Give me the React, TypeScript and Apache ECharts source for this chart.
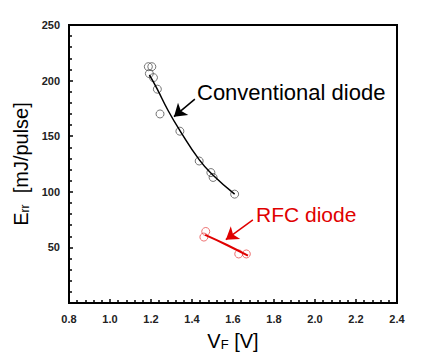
import React, { useEffect, useRef } from 'react';
import * as echarts from 'echarts';

const xTickLabels = ['0.8', '1.0', '1.2', '1.4', '1.6', '1.8', '2.0', '2.2', '2.4'];
const yTickLabels = ['0', '50', '100', '150', '200', '250'];

const convPoints = [
  [1.187, 212.5], [1.204, 212.5], [1.192, 206.3], [1.212, 202.7], [1.231, 192.3],
  [1.244, 170.0], [1.341, 154.5], [1.435, 127.7], [1.492, 117.3], [1.503, 112.9], [1.608, 97.9],
];
const convFit = [
  [1.192, 205.1], [1.228, 193.2], [1.284, 172.9], [1.341, 155.1], [1.435, 128.9], [1.503, 114.9], [1.608, 97.9],
];
const rfcPoints = [[1.467, 64.3], [1.458, 59.3], [1.628, 44.1], [1.665, 44.1]];
const rfcFit = [[1.464, 61.3], [1.568, 52.4], [1.673, 42.5]];

const convArrow = [[1.414, 183.4], [1.312, 167.6]];
const rfcArrow = [[1.697, 74.7], [1.565, 56.9]];

const FONT = 'Arial, "Liberation Sans", sans-serif';

export default function App() {
  const ref = useRef<HTMLDivElement>(null);
  useEffect(() => {
    if (!ref.current) return;
    const chart = echarts.init(ref.current, null, { renderer: 'svg' });
    const arrowLine = (pts: number[][], color: string) => ({
      silent: true,
      symbol: ['none', 'arrow'],
      symbolSize: 12,
      label: { show: false },
      lineStyle: { color, width: 1.5, type: 'solid' },
      emphasis: { disabled: true },
      data: [[{ coord: pts[0] }, { coord: pts[1] }]],
    });
    const tickStyle = { color: '#000', width: 1.5 };
    chart.setOption({
      animation: false,
      backgroundColor: '#fff',
      grid: {
        left: 69, right: 34, top: 25, bottom: 57,
        show: true, borderColor: '#000', borderWidth: 2, backgroundColor: 'transparent',
      },
      xAxis: {
        type: 'value', min: 0.8, max: 2.4, interval: 0.2,
        name: '{a|V}{b|F}{a| [V]}',
        nameLocation: 'middle', nameGap: 28,
        nameTextStyle: {
          rich: {
            a: { fontFamily: FONT, fontSize: 20, color: '#000' },
            b: { fontFamily: FONT, fontSize: 13, color: '#000', verticalAlign: 'bottom', padding: [6, 0, 0, 0] },
          },
        },
        axisLine: { show: true, lineStyle: { color: '#000', width: 2 } },
        axisTick: { show: true, inside: true, length: 4, lineStyle: tickStyle },
        minorTick: { show: true, splitNumber: 5, length: 3, lineStyle: tickStyle },
        splitLine: { show: false },
        axisLabel: {
          show: true, margin: 10, fontFamily: FONT, fontSize: 11, fontWeight: 'bold', color: '#222',
          formatter: (v: number) => xTickLabels[Math.round((v - 0.8) / 0.2)] ?? '',
        },
      },
      yAxis: {
        type: 'value', min: 0, max: 250, interval: 50,
        name: '{a|E}{b|rr}{a|  [mJ/pulse]}',
        nameLocation: 'middle', nameGap: 34, nameRotate: 90,
        nameTextStyle: {
          rich: {
            a: { fontFamily: FONT, fontSize: 20, color: '#000' },
            b: { fontFamily: FONT, fontSize: 12, color: '#000', verticalAlign: 'bottom', padding: [7, 0, 0, 0] },
          },
        },
        axisLine: { show: true, lineStyle: { color: '#000', width: 2 } },
        axisTick: { show: true, inside: true, length: 4, lineStyle: tickStyle },
        minorTick: { show: true, splitNumber: 5, length: 3, lineStyle: tickStyle },
        splitLine: { show: false },
        axisLabel: {
          show: true, margin: 9, fontFamily: FONT, fontSize: 11, fontWeight: 'bold', color: '#222',
          formatter: (v: number) => (v === 0 ? '' : yTickLabels[Math.round(v / 50)] ?? ''),
        },
      },
      graphic: [
        { type: 'text', left: 197, top: 81, style: { text: 'Conventional diode', font: `22px ${FONT}`, fill: '#000' } },
        { type: 'text', left: 256, top: 204, style: { text: 'RFC diode', font: `21px ${FONT}`, fill: '#e00000' } },
      ],
      series: [
        {
          type: 'line', data: convFit, smooth: true, showSymbol: false, silent: true,
          lineStyle: { color: '#000', width: 1.5 },
          markLine: arrowLine(convArrow, '#000'),
        },
        {
          type: 'line', data: rfcFit, smooth: true, showSymbol: false, silent: true,
          lineStyle: { color: '#e00000', width: 2 },
          markLine: arrowLine(rfcArrow, '#e00000'),
        },
        {
          type: 'scatter', data: convPoints, symbol: 'circle', symbolSize: 8,
          itemStyle: { color: 'rgba(0,0,0,0)', borderColor: '#555', borderWidth: 1 },
        },
        {
          type: 'scatter', data: rfcPoints, symbol: 'circle', symbolSize: 8,
          itemStyle: { color: 'rgba(0,0,0,0)', borderColor: '#e85050', borderWidth: 1 },
        },
      ],
    });
    return () => chart.dispose();
  }, []);
  return <div ref={ref} style={{ width: 431, height: 360, position: 'absolute', left: 0, top: 0 }} />;
}
